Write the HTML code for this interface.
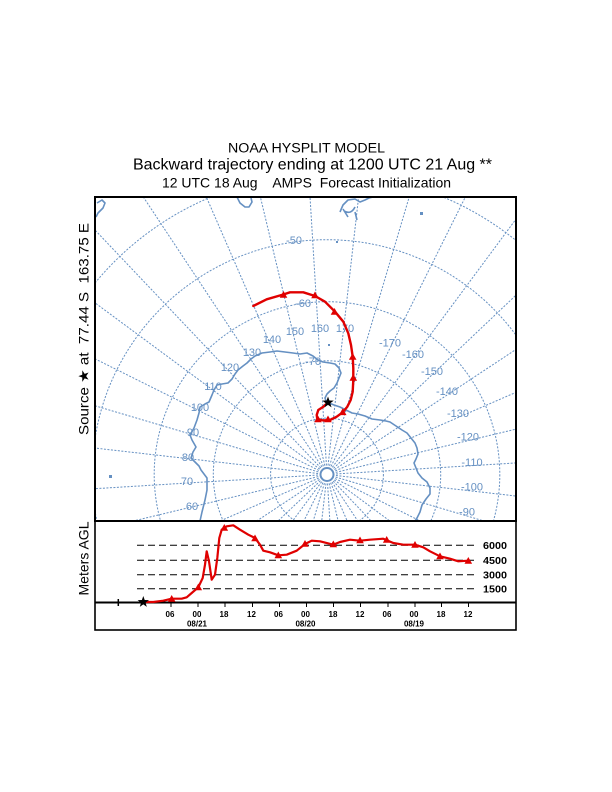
<!DOCTYPE html>
<html><head><meta charset="utf-8"><style>
html,body{margin:0;padding:0;background:#fff;width:612px;height:792px;overflow:hidden;}
svg{display:block;position:absolute;left:0;top:0;}
text{font-family:"Liberation Sans",Arial,sans-serif;}
</style></head><body>
<svg width="612" height="792" viewBox="0 0 612 792" xmlns="http://www.w3.org/2000/svg">
<defs>
<clipPath id="mapclip"><rect x="95" y="197" width="421" height="324"/></clipPath>
<path id="star" d="M0,-6 L1.41,-1.94 L5.71,-1.85 L2.28,0.74 L3.53,4.85 L0,2.4 L-3.53,4.85 L-2.28,0.74 L-5.71,-1.85 L-1.41,-1.94 Z"/>
<path id="tri" d="M0,-4 L3.8,2.8 L-3.8,2.8 Z"/>
</defs>
<rect width="612" height="792" fill="#fff"/>

<!-- Titles -->
<text x="306.5" y="152.5" font-size="13.5" text-anchor="middle" textLength="157" lengthAdjust="spacingAndGlyphs">NOAA HYSPLIT MODEL</text>
<text x="312.5" y="169.3" font-size="16" text-anchor="middle" textLength="359" lengthAdjust="spacingAndGlyphs">Backward trajectory ending at 1200 UTC 21 Aug **</text>
<text x="306.5" y="187.3" font-size="14" text-anchor="middle" textLength="289" lengthAdjust="spacingAndGlyphs" style="white-space:pre" xml:space="preserve">12 UTC 18 Aug    AMPS  Forecast Initialization</text>

<!-- Y labels -->
<text transform="translate(88.5,329) rotate(-90)" font-size="14" text-anchor="middle" textLength="212" lengthAdjust="spacingAndGlyphs" style="white-space:pre" xml:space="preserve">Source ★ at  77.44 S  163.75 E</text>
<text transform="translate(88.5,558.5) rotate(-90)" font-size="14" text-anchor="middle" textLength="74" lengthAdjust="spacingAndGlyphs">Meters AGL</text>

<!-- Map -->
<g clip-path="url(#mapclip)">
 <g fill="none" stroke="#6590c2" stroke-width="1" stroke-dasharray="2 1.5">
  <circle cx="327" cy="474.5" r="56.4"/>
  <circle cx="327" cy="474.5" r="113.7"/>
  <circle cx="327" cy="474.5" r="172.8"/>
  <circle cx="327" cy="474.5" r="234.8"/>
  <path d="M95,283 A300.8,300.8 0 0 1 516,240.5"/>
 </g>
 <g transform="translate(327 474.5)" stroke="#6590c2" stroke-width="1" stroke-dasharray="2 1.5" fill="none">
  <line x1="9" y1="0" x2="250" y2="0" transform="rotate(6.5)"/>
  <line x1="9" y1="0" x2="250" y2="0" transform="rotate(16.5)"/>
  <line x1="9" y1="0" x2="250" y2="0" transform="rotate(26.5)"/>
  <line x1="9" y1="0" x2="250" y2="0" transform="rotate(36.5)"/>
  <line x1="9" y1="0" x2="250" y2="0" transform="rotate(46.5)"/>
  <line x1="9" y1="0" x2="250" y2="0" transform="rotate(56.5)"/>
  <line x1="9" y1="0" x2="120" y2="0" transform="rotate(66.5)"/>
  <line x1="9" y1="0" x2="120" y2="0" transform="rotate(76.5)"/>
  <line x1="9" y1="0" x2="120" y2="0" transform="rotate(86.5)"/>
  <line x1="9" y1="0" x2="120" y2="0" transform="rotate(96.5)"/>
  <line x1="9" y1="0" x2="120" y2="0" transform="rotate(106.5)"/>
  <line x1="9" y1="0" x2="120" y2="0" transform="rotate(116.5)"/>
  <line x1="9" y1="0" x2="320" y2="0" transform="rotate(126.5)"/>
  <line x1="9" y1="0" x2="320" y2="0" transform="rotate(136.5)"/>
  <line x1="9" y1="0" x2="320" y2="0" transform="rotate(146.5)"/>
  <line x1="9" y1="0" x2="320" y2="0" transform="rotate(156.5)"/>
  <line x1="9" y1="0" x2="320" y2="0" transform="rotate(166.5)"/>
  <line x1="9" y1="0" x2="320" y2="0" transform="rotate(176.5)"/>
  <line x1="9" y1="0" x2="320" y2="0" transform="rotate(186.5)"/>
  <line x1="9" y1="0" x2="320" y2="0" transform="rotate(196.5)"/>
  <line x1="9" y1="0" x2="320" y2="0" transform="rotate(206.5)"/>
  <line x1="9" y1="0" x2="365" y2="0" transform="rotate(216.5)"/>
  <line x1="9" y1="0" x2="365" y2="0" transform="rotate(226.5)"/>
  <line x1="9" y1="0" x2="365" y2="0" transform="rotate(236.5)"/>
  <line x1="9" y1="0" x2="365" y2="0" transform="rotate(246.5)"/>
  <line x1="9" y1="0" x2="365" y2="0" transform="rotate(256.5)"/>
  <line x1="9" y1="0" x2="365" y2="0" transform="rotate(266.5)"/>
  <line x1="9" y1="0" x2="365" y2="0" transform="rotate(276.5)"/>
  <line x1="9" y1="0" x2="365" y2="0" transform="rotate(286.5)"/>
  <line x1="9" y1="0" x2="365" y2="0" transform="rotate(296.5)"/>
  <line x1="9" y1="0" x2="365" y2="0" transform="rotate(306.5)"/>
  <line x1="9" y1="0" x2="365" y2="0" transform="rotate(316.5)"/>
  <line x1="9" y1="0" x2="280" y2="0" transform="rotate(326.5)"/>
  <line x1="9" y1="0" x2="280" y2="0" transform="rotate(336.5)"/>
  <line x1="9" y1="0" x2="280" y2="0" transform="rotate(346.5)"/>
  <line x1="9" y1="0" x2="280" y2="0" transform="rotate(356.5)"/>
 </g>
 <circle cx="327" cy="474.5" r="6.5" fill="none" stroke="#6590c2" stroke-width="2"/>

 <!-- coastlines -->
 <g fill="none" stroke="#6590c2" stroke-width="1.6" stroke-linejoin="round">
  <polyline points="200,521 202,512 205,500 207,490 207,478 201,470 199,466 191,458 193,452 196,447 192,440 190,435 194,428 197,420 199,413 200,407 205,404 209,402 212,395 214,390 217,385 222,384 228,383 232,379 235,374 238,370 243,366 247,363 251,359 255,356 262,353 270,352 277,351 285,352 293,353 300,354 307,353 313,356 318,360 323,362 330,363 335,364 339,368 341,373 339,378 337,383 334,388 330,391 327,394 325,398 326,401 329,403 334,405 340,407 346,410 352,413 358,414 365,416 372,419 380,420 386,421 390,422 396,426 402,430 407,433 411,438 415,443 417,448 418,454 416,459 414,463 416,468 418,473 422,478 427,482 430,488 430,494 426,499 422,505 420,512 417,518 415,521"/>
  <polyline points="340,212 343,205 348,200 355,199 360,202 365,200 369,198 373,197"/>
  <path d="M344,211 Q351,215 355,207 M355,212 L357,220 M343,209 L348,217"/>
  <polyline points="237,197 240,203 245,207 249,207 252,202 251,198"/>
  <polyline points="97,203 102,200 105,203 103,208 98,213 96,217"/>
 </g>
 <g fill="#6590c2">
  <rect x="420" y="212" width="3" height="3"/>
  <rect x="336" y="241" width="2" height="2"/>
  <rect x="328" y="344" width="2" height="2"/>
  <rect x="109" y="475" width="3" height="3"/>
 </g>

 <!-- labels -->
 <g fill="#6590c2" font-size="11" text-anchor="middle">
  <text x="294" y="244">-50</text>
  <text x="303" y="307">-60</text>
  <text x="313" y="365">-70</text>
  <text x="192" y="510">60</text>
  <text x="187" y="485">70</text>
  <text x="188" y="461">80</text>
  <text x="193" y="436">90</text>
  <text x="200" y="411">100</text>
  <text x="213" y="390">110</text>
  <text x="230" y="371">120</text>
  <text x="252" y="356">130</text>
  <text x="272" y="343">140</text>
  <text x="295" y="335">150</text>
  <text x="320" y="332">160</text>
  <text x="345" y="332">170</text>
  <text x="390" y="346.5">-170</text>
  <text x="413" y="358">-160</text>
  <text x="432" y="375">-150</text>
  <text x="447" y="395">-140</text>
  <text x="458" y="417">-130</text>
  <text x="468" y="440.5">-120</text>
  <text x="472" y="466">-110</text>
  <text x="472" y="490.5">-100</text>
  <text x="467" y="515.5">-90</text>
 </g>

 <!-- trajectory -->
 <path d="M328,402.5 L323.3,406.7 L318.3,410 L316.7,415 L317.3,419 L323.3,420.5 L330,420 L336.7,416.7 L342.7,412.3 L347.3,406.7 L350.7,400 L352.7,391.7 L353.3,380 L353.3,368.3 L352.7,356.7 L351,345 L348.3,333.3 L343.3,321.7 L335,311.7 L325,301.7 L315,296 L303.3,292.3 L290,292.3 L283.3,294.5 L266.7,299.3 L253.3,306" fill="none" stroke="#e00000" stroke-width="2.4" stroke-linejoin="round" stroke-linecap="round"/>
 <g fill="#e00000">
  <use href="#tri" x="283.5" y="295"/>
  <use href="#tri" x="315" y="295.5"/>
  <use href="#tri" x="334.5" y="312"/>
  <use href="#tri" x="352.7" y="357"/>
  <use href="#tri" x="353.3" y="378"/>
  <use href="#tri" x="342.7" y="412.3"/>
  <use href="#tri" x="328" y="419.5"/>
  <use href="#tri" x="318" y="419.5"/>
 </g>
 <use href="#star" x="328" y="402.5" fill="#000"/>
</g>
<rect x="95" y="197" width="421" height="324" fill="none" stroke="#000" stroke-width="2"/>

<!-- Lower panel -->
<rect x="95" y="521" width="421" height="109" fill="none" stroke="#000" stroke-width="1.6"/>
<g stroke="#000" stroke-width="1" stroke-dasharray="7 4">
 <line x1="137" y1="545.3" x2="474" y2="545.3"/>
 <line x1="137" y1="560.3" x2="474" y2="560.3"/>
 <line x1="137" y1="574.7" x2="474" y2="574.7"/>
 <line x1="137" y1="588.7" x2="474" y2="588.7"/>
</g>
<g font-size="10" fill="#000" font-weight="bold">
 <text x="483" y="549" textLength="24" lengthAdjust="spacingAndGlyphs">6000</text>
 <text x="483" y="564" textLength="24" lengthAdjust="spacingAndGlyphs">4500</text>
 <text x="483" y="578.5" textLength="24" lengthAdjust="spacingAndGlyphs">3000</text>
 <text x="483" y="592.5" textLength="24" lengthAdjust="spacingAndGlyphs">1500</text>
</g>
<line x1="95" y1="602.5" x2="516" y2="602.5" stroke="#000" stroke-width="2"/>
<g stroke="#000" stroke-width="1">
 <line x1="171" y1="603" x2="171" y2="607"/>
 <line x1="198" y1="603" x2="198" y2="607"/>
 <line x1="225" y1="603" x2="225" y2="607"/>
 <line x1="252.5" y1="603" x2="252.5" y2="607"/>
 <line x1="279.5" y1="603" x2="279.5" y2="607"/>
 <line x1="306.5" y1="603" x2="306.5" y2="607"/>
 <line x1="333.5" y1="603" x2="333.5" y2="607"/>
 <line x1="360.5" y1="603" x2="360.5" y2="607"/>
 <line x1="388" y1="603" x2="388" y2="607"/>
 <line x1="415" y1="603" x2="415" y2="607"/>
 <line x1="441.5" y1="603" x2="441.5" y2="607"/>
 <line x1="468.5" y1="603" x2="468.5" y2="607"/>
</g>
<g font-size="8" fill="#000" text-anchor="middle" font-weight="bold">
 <text x="170" y="617">06</text>
 <text x="197" y="617">00</text>
 <text x="224" y="617">18</text>
 <text x="251.5" y="617">12</text>
 <text x="278.5" y="617">06</text>
 <text x="305.5" y="617">00</text>
 <text x="333" y="617">18</text>
 <text x="360" y="617">12</text>
 <text x="387" y="617">06</text>
 <text x="414" y="617">00</text>
 <text x="441" y="617">18</text>
 <text x="468" y="617">12</text>
 <text x="197" y="626.5">08/21</text>
 <text x="305.5" y="626.5">08/20</text>
 <text x="414" y="626.5">08/19</text>
</g>
<path d="M115,602.5 L121.5,602.5 M118.3,599 L118.3,606" stroke="#000" stroke-width="1.5"/>
<path d="M143.3,602 L153.3,602 L163.3,600.7 L171.7,598.7 L181.7,598.7 L186.7,597.3 L191.7,593 L198.3,587.3 L202.7,578 L205,564.7 L206.7,551.3 L209,561.3 L211.7,579.7 L215,574.7 L217.3,558 L219.3,538 L221.7,529.7 L226.7,526.3 L233.3,525.3 L240,529.7 L248.3,534.7 L255,538 L260,544.7 L263.3,550.7 L270,552.3 L278.3,555.3 L286.7,554.7 L296.7,550.7 L305,544 L311.7,540.7 L320,541.3 L333.3,544.7 L340,542 L350,539.7 L360,540.7 L370,539.7 L383.3,538.7 L393.3,543 L403.3,544.7 L415,544.7 L423.3,547.3 L430,551.3 L440,556.3 L450,558.7 L458.3,561.3 L468.3,560.7" fill="none" stroke="#e00000" stroke-width="2.2" stroke-linejoin="round" stroke-linecap="round"/>
<g fill="#e00000">
 <use href="#tri" x="171.7" y="599"/>
 <use href="#tri" x="198.3" y="587.5"/>
 <use href="#tri" x="224.3" y="528"/>
 <use href="#tri" x="255" y="538.5"/>
 <use href="#tri" x="278.3" y="555.5"/>
 <use href="#tri" x="305" y="544"/>
 <use href="#tri" x="333.3" y="544.5"/>
 <use href="#tri" x="360" y="540.5"/>
 <use href="#tri" x="386.7" y="540"/>
 <use href="#tri" x="415" y="545"/>
 <use href="#tri" x="440" y="556.5"/>
 <use href="#tri" x="468.3" y="561"/>
</g>
<use href="#star" x="143.3" y="602" fill="#000"/>
</svg>
</body></html>
